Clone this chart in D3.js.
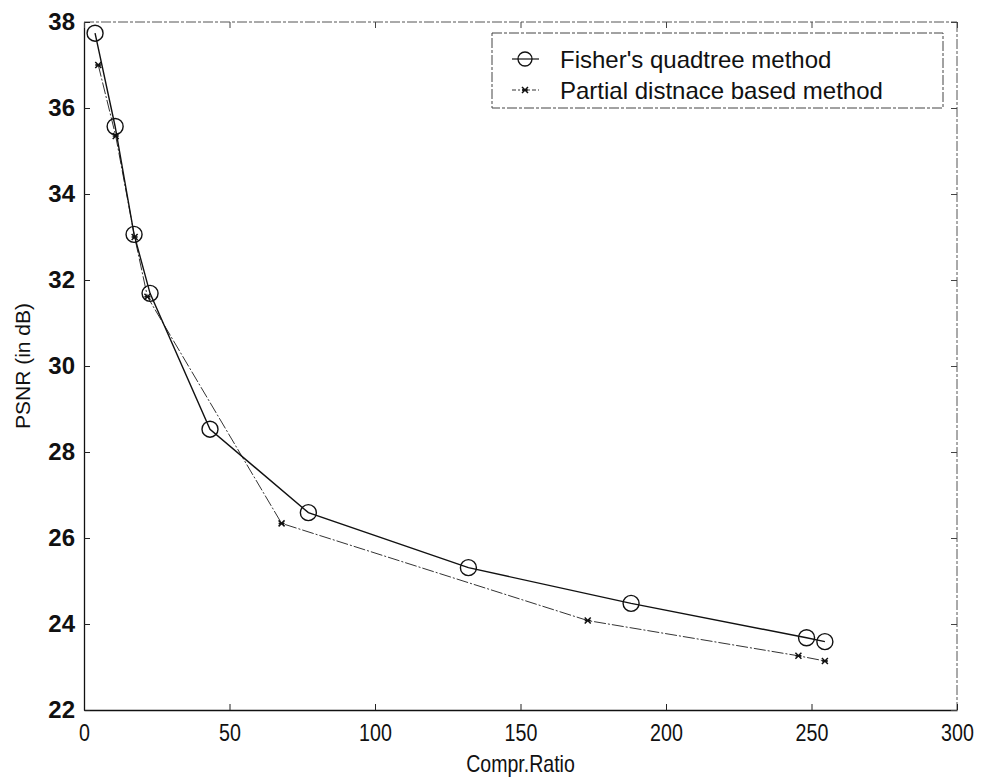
<!DOCTYPE html>
<html>
<head>
<meta charset="utf-8">
<script src="https://cdn.jsdelivr.net/npm/d3@7"></script>
<style>
  html, body { margin: 0; padding: 0; background: #fff; }
  svg { display: block; }
</style>
</head>
<body>
<svg id="chart" width="982" height="782"></svg>
<script>
// ---- data ----
const seriesNames = ["Fisher's quadtree method", "Partial distnace based method"];
const fisherX = [3.8, 10.7, 17.2, 22.7, 43.3, 77.1, 132.1, 188, 248.3, 254.6];
const fisherY = [37.74, 35.57, 33.06, 31.69, 28.53, 26.59, 25.31, 24.48, 23.68, 23.59];
const partialX = [4.9, 10.9, 17.4, 21.8, 67.9, 173.1, 245.5, 254.6];
const partialY = [37.0, 35.35, 33.0, 31.61, 26.34, 24.08, 23.26, 23.14];
const xTicks = [0, 50, 100, 150, 200, 250, 300];
const yTicks = [22, 24, 26, 28, 30, 32, 34, 36, 38];
const xTitle = "Compr.Ratio";
const yTitle = "PSNR (in dB)";

// ---- layout ----
const L = 84, R = 957, T = 22, B = 710;
const svg = d3.select("#chart");
const x = d3.scaleLinear().domain([0, 300]).range([L, R]);
const y = d3.scaleLinear().domain([22, 38]).range([B, T]);
const sans = "'Liberation Sans', Arial, Helvetica, sans-serif";

// frame top/right (light dashed look)
svg.append("line").attr("x1", L).attr("x2", R).attr("y1", T).attr("y2", T)
  .attr("stroke", "#555").attr("stroke-width", 1).attr("stroke-dasharray", "10,2,3,2");
svg.append("line").attr("x1", R).attr("x2", R).attr("y1", T).attr("y2", B)
  .attr("stroke", "#555").attr("stroke-width", 1).attr("stroke-dasharray", "10,2,3,2");

// axes
const xAxis = d3.axisBottom(x).tickValues(xTicks).tickSizeInner(-6).tickSizeOuter(0).tickPadding(0);
const yAxis = d3.axisLeft(y).tickValues(yTicks).tickSizeInner(-6).tickSizeOuter(0).tickPadding(9);
const gx = svg.append("g").attr("transform", `translate(0,${B})`).call(xAxis);
const gy = svg.append("g").attr("transform", `translate(${L},0)`).call(yAxis);
gx.select(".domain").attr("stroke", "#111").attr("stroke-width", 1.3);
gy.select(".domain").attr("stroke", "#111").attr("stroke-width", 1.3);
gx.selectAll(".tick line").attr("stroke", "#222");
gy.selectAll(".tick line").attr("stroke", "#222");
gx.selectAll("text").attr("font-family", sans)
  .attr("font-size", 24).attr("fill", "#111")
  .attr("y", 0).attr("dy", 0)
  .attr("transform", "translate(0,31) scale(0.82,1)");
gy.selectAll("text").attr("font-family", sans)
  .attr("font-size", 24).attr("font-weight", "bold").attr("fill", "#111").attr("dy", "0.3em");

// top / right ticks
const tx = d3.axisTop(x).tickValues(xTicks).tickSizeInner(-6).tickSizeOuter(0).tickFormat("");
const ty = d3.axisRight(y).tickValues(yTicks).tickSizeInner(-6).tickSizeOuter(0).tickFormat("");
const gtx = svg.append("g").attr("transform", `translate(0,${T})`).call(tx);
const gty = svg.append("g").attr("transform", `translate(${R},0)`).call(ty);
gtx.select(".domain").remove(); gty.select(".domain").remove();
gtx.selectAll(".tick line").attr("stroke", "#444");
gty.selectAll(".tick line").attr("stroke", "#444");

// titles
svg.append("g").attr("transform", `translate(${(L + R) / 2},772) scale(0.85,1)`)
  .append("text").attr("text-anchor", "middle")
  .attr("font-family", sans).attr("font-size", 23).attr("fill", "#111").text(xTitle);
svg.append("text").attr("transform", `translate(30,${(T + B) / 2}) rotate(-90)`)
  .attr("text-anchor", "middle")
  .attr("font-family", sans).attr("font-size", 21).attr("fill", "#111").text(yTitle);

// series
const fisher = fisherX.map((d, i) => [d, fisherY[i]]);
const partial = partialX.map((d, i) => [d, partialY[i]]);
const line = d3.line().x(d => x(d[0])).y(d => y(d[1]));

svg.append("path").datum(partial).attr("d", line).attr("fill", "none")
  .attr("stroke", "#333").attr("stroke-width", 1).attr("stroke-dasharray", "12,2,2,2");
svg.append("path").datum(fisher).attr("d", line).attr("fill", "none")
  .attr("stroke", "#111").attr("stroke-width", 1.4);

svg.append("g").selectAll("circle").data(fisher).join("circle")
  .attr("cx", d => x(d[0])).attr("cy", d => y(d[1])).attr("r", 8)
  .attr("fill", "none").attr("stroke", "#111").attr("stroke-width", 1.4);

function star(g, cx, cy, s) {
  const p = `M${cx - s},${cy - s}L${cx + s},${cy + s}M${cx - s},${cy + s}L${cx + s},${cy - s}M${cx - s},${cy}L${cx + s},${cy}`;
  g.append("path").attr("d", p).attr("stroke", "#111").attr("stroke-width", 1.5).attr("fill", "none");
}
const sg = svg.append("g");
partial.forEach(d => star(sg, x(d[0]), y(d[1]), 3));

// legend
const lg = svg.append("g");
lg.append("rect").attr("x", 492).attr("y", 33).attr("width", 451).attr("height", 75)
  .attr("fill", "#fff").attr("stroke", "#444").attr("stroke-width", 1).attr("stroke-dasharray", "10,2,3,2");
// entry 1
lg.append("line").attr("x1", 512).attr("x2", 539).attr("y1", 59).attr("y2", 59).attr("stroke", "#111").attr("stroke-width", 1.2);
lg.append("circle").attr("cx", 525).attr("cy", 59).attr("r", 7).attr("fill", "none").attr("stroke", "#111").attr("stroke-width", 1.3);
lg.append("text").attr("x", 560).attr("y", 59).attr("dy", "0.36em")
  .attr("font-family", sans).attr("font-size", 24).attr("fill", "#111").text(seriesNames[0]);
// entry 2
lg.append("line").attr("x1", 512).attr("x2", 539).attr("y1", 90).attr("y2", 90).attr("stroke", "#333").attr("stroke-width", 1).attr("stroke-dasharray", "4,2,2,2");
star(lg, 525, 90, 3);
lg.append("text").attr("x", 560).attr("y", 90).attr("dy", "0.36em")
  .attr("font-family", sans).attr("font-size", 24).attr("fill", "#111").text(seriesNames[1]);
</script>
</body>
</html>
